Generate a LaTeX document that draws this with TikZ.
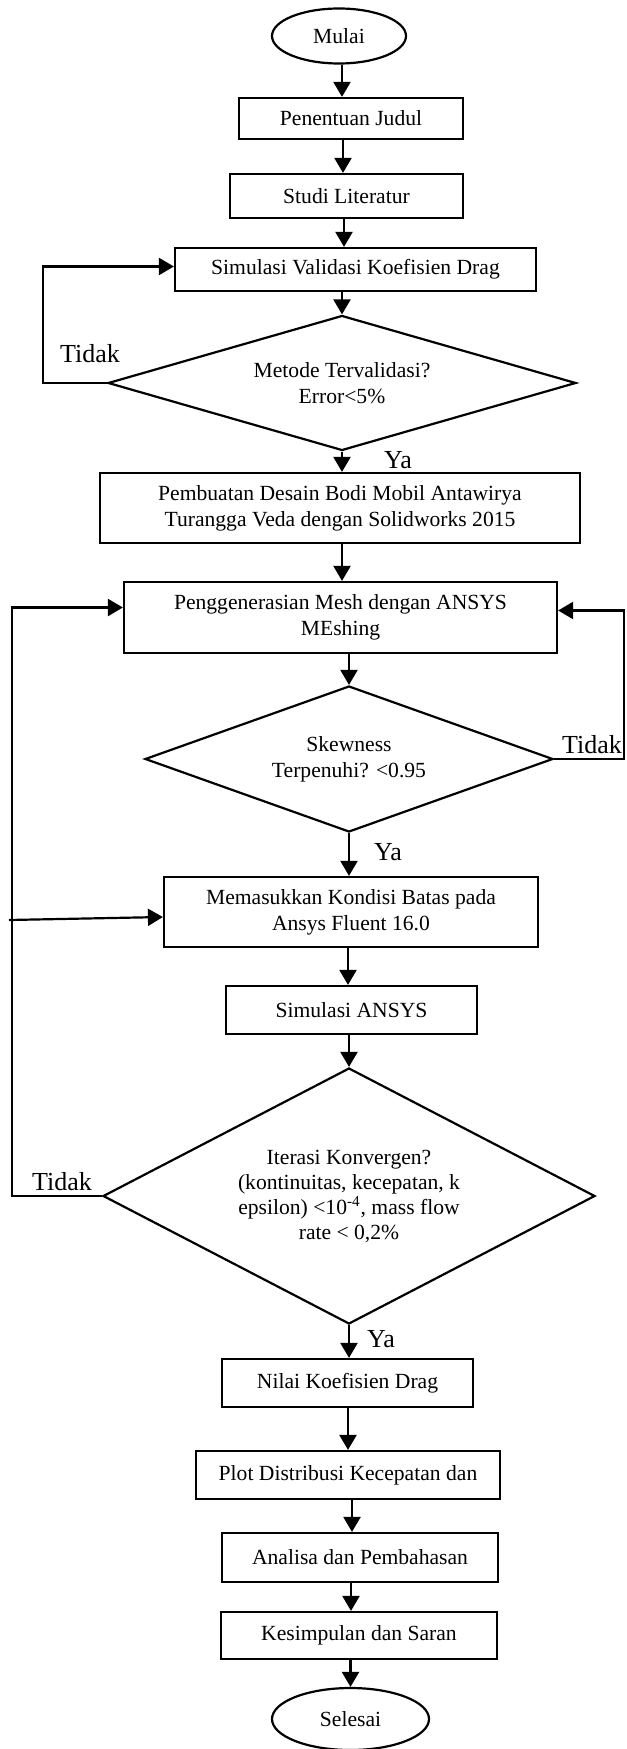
\documentclass[tikz,border=0pt]{standalone}
\usepackage{fontspec}
\setmainfont{Liberation Serif}
\usetikzlibrary{shapes.geometric,arrows.meta}
\begin{document}
\begin{tikzpicture}[x=0.5pt,y=-0.5pt,
  txt/.style={font=\fontsize{10.8}{13}\selectfont},
  box/.style={draw, rectangle, line width=1.1pt, inner sep=1pt, align=center, txt},
  term/.style={draw, ellipse, line width=1.1pt, inner sep=0pt, txt},
  decision/.style={draw, diamond, line width=1.1pt, inner sep=0pt, align=center, txt},
  arr/.style={line width=1.1pt, -{Triangle[length=7.5pt,width=8.5pt]}},
  lbl/.style={font=\fontsize{13}{15}\selectfont, inner sep=0pt}]
\useasboundingbox (0,0) rectangle (626,1749);

% nodes
\node[term, minimum width=67pt, minimum height=27.5pt] (mulai) at (339,36) {Mulai};
\node[box, minimum width=112pt, minimum height=20.5pt] (pen) at (351,118.5) {Penentuan Judul};
\node[box, minimum width=116.5pt, minimum height=22pt] (studi) at (346.5,196) {Studi Literatur};
\node[box, minimum width=180.5pt, minimum height=21.5pt] (sim) at (355.5,269.5) {Simulasi Validasi Koefisien Drag};
\node[decision, minimum width=234pt, minimum height=67.5pt, shape aspect=3.47] (met) at (342,383) {Metode Tervalidasi?\\Error<5\%};
\node[box, minimum width=240pt, minimum height=35pt] (pemb) at (340,508) {Pembuatan Desain Bodi Mobil Antawirya\\Turangga Veda dengan Solidworks 2015};
\node[box, minimum width=216.5pt, minimum height=35.5pt] (peng) at (340.5,617.5) {Penggenerasian Mesh dengan ANSYS\\MEshing};
\node[decision, minimum width=204pt, minimum height=73pt, shape aspect=2.79] (skew) at (349,759) {Skewness\\Terpenuhi? <0.95};
\node[box, minimum width=187pt, minimum height=35pt] (mem) at (351,912) {Memasukkan Kondisi Batas pada\\Ansys Fluent 16.0};
\node[box, minimum width=125.5pt, minimum height=24pt] (simA) at (351.5,1010) {Simulasi ANSYS};
\node[decision, minimum width=246pt, minimum height=128pt, shape aspect=1.92, font=\fontsize{10.8}{12.5}\selectfont] (iter) at (349,1196) {Iterasi Konvergen?\\(kontinuitas, kecepatan, k\\epsilon) <10\textsuperscript{-4}, mass flow\\rate < 0,2\%};
\node[box, minimum width=125.5pt, minimum height=24pt] (nilai) at (347.5,1383) {Nilai Koefisien Drag};
\node[box, minimum width=152pt, minimum height=24pt] (plot) at (348,1475) {Plot Distribusi Kecepatan dan};
\node[box, minimum width=138pt, minimum height=24.5pt] (ana) at (360,1557.5) {Analisa dan Pembahasan};
\node[box, minimum width=138pt, minimum height=23.5pt] (kes) at (359,1635.5) {Kesimpulan dan Saran};
\node[term, minimum width=78.5pt, minimum height=31pt] (sel) at (350.5,1719) {Selesai};

% labels
\node[lbl] (t1) at (90,354) {Tidak};
\node[lbl] (y1) at (398,460) {Ya};
\node[lbl] (t2) at (592,745) {Tidak};
\node[lbl] (y2) at (388,852) {Ya};
\node[lbl] (t3) at (62,1182) {Tidak};
\node[lbl] (y3) at (381,1339) {Ya};

% main flow
\draw[arr] (mulai.south -| 342,0) -- (pen.north -| 342,0);
\draw[arr] (pen.south -| 343,0) -- (studi.north -| 343,0);
\draw[arr] (studi.south -| 344,0) -- (sim.north -| 344,0);
\draw[arr] (sim.south -| met.north) -- (met.north);
\draw[arr] (met.south) -- (met.south |- pemb.north);
\draw[arr] (pemb.south -| 342,0) -- (peng.north -| 342,0);
\draw[arr] (peng.south -| skew.north) -- (skew.north);
\draw[arr] (skew.south) -- (skew.south |- mem.north);
\draw[arr] (mem.south -| 348,0) -- (simA.north -| 348,0);
\draw[arr] (simA.south -| iter.north) -- (iter.north);
\draw[arr] (iter.south) -- (iter.south |- nilai.north);
\draw[arr] (nilai.south -| 348,0) -- (plot.north -| 348,0);
\draw[arr] (plot.south -| 352,0) -- (ana.north -| 352,0);
\draw[arr] (ana.south -| 351,0) -- (kes.north -| 351,0);
\draw[arr] (kes.south -| sel.north) -- (sel.north);

% loops
\coordinate (c1) at (43,383);
\draw[arr] (met.west) -- (c1) |- ([yshift=1.5pt]sim.west);
\coordinate (c2) at (624,759);
\draw[arr] (skew.east) -- (c2) |- ([yshift=3.5pt]peng.east);
\coordinate (c3) at (12,1196);
\draw[arr] (iter.west) -- (c3) |- ([yshift=5pt]peng.west);
\coordinate (c4) at (9,920);
\draw[arr] (c4) -- ([yshift=-2.5pt]mem.west);
\end{tikzpicture}
\end{document}
